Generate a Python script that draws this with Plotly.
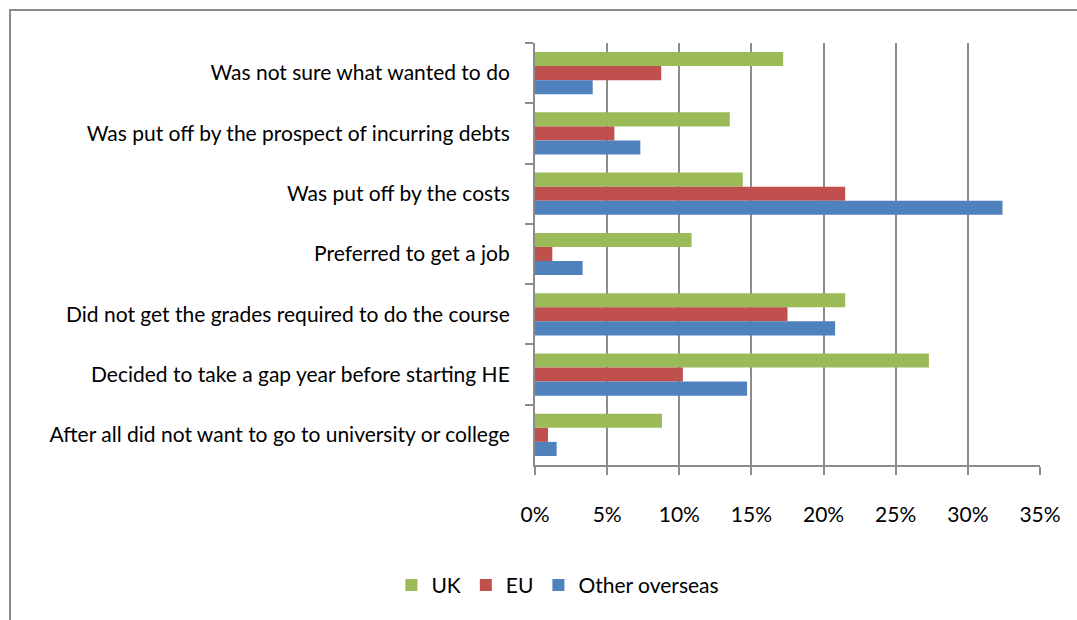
import plotly.graph_objects as go

# Reasons for not taking up a place, by domicile group (share of respondents)
categories = [
    "Was not sure what wanted to do",
    "Was put off by the prospect of incurring debts",
    "Was put off by the costs",
    "Preferred to get a job",
    "Did not get the grades required to do the course",
    "Decided to take a gap year before starting HE",
    "After all did not want to go to university or college",
]
uk = [0.172, 0.135, 0.144, 0.1085, 0.215, 0.273, 0.088]
eu = [0.0875, 0.055, 0.215, 0.012, 0.175, 0.1025, 0.009]
other_overseas = [0.040, 0.073, 0.324, 0.033, 0.208, 0.147, 0.015]

series = [
    ("UK", uk, "#9BBB59"),
    ("EU", eu, "#C0504D"),
    ("Other overseas", other_overseas, "#4F81BD"),
]
x_ticks = [0, 0.05, 0.10, 0.15, 0.20, 0.25, 0.30, 0.35]

FONT = "Lato, Calibri, Carlito, sans-serif"
FONT_SIZE = 21
GRID = "#8C8C8C"

fig = go.Figure()
for name, values, colour in series:
    fig.add_trace(go.Bar(
        y=categories, x=values, name=name, orientation="h",
        marker=dict(color=colour, line=dict(width=0)),
    ))

W, H = 1077, 620
L, R, T, B = 535, 37, 43, 155
pw, ph = W - L - R, H - T - B

def px_x(p):
    return (p - L) / pw

def px_y(p):
    return (H - B - p) / ph

fig.update_layout(
    width=W, height=H,
    margin=dict(l=L, r=R, t=T, b=B, pad=0),
    paper_bgcolor="white", plot_bgcolor="white",
    barmode="group", bargap=0.3, bargroupgap=0,
    font=dict(family=FONT, size=FONT_SIZE, color="#000000"),
    showlegend=True,
    legend=dict(
        orientation="h", xref="container", yref="container",
        x=0.518, xanchor="center", y=0.056, yanchor="middle",
        font=dict(family=FONT, size=FONT_SIZE, color="#000000"),
        traceorder="normal", itemwidth=30,
    ),
    xaxis=dict(
        range=[0, 0.35], tickvals=x_ticks, tickformat=".0%",
        showgrid=True, gridcolor=GRID, gridwidth=2,
        showline=True, linecolor=GRID, linewidth=2,
        ticks="outside", ticklen=8, tickwidth=2, tickcolor=GRID,
        ticklabelstandoff=22, zeroline=False,
        tickfont=dict(family=FONT, size=FONT_SIZE),
    ),
    yaxis=dict(
        autorange="reversed", type="category",
        tickson="boundaries", showgrid=False,
        showline=True, linecolor=GRID, linewidth=2,
        ticks="outside", ticklen=8, tickwidth=2, tickcolor=GRID,
        ticklabelstandoff=19,
        tickfont=dict(family=FONT, size=FONT_SIZE),
    ),
    shapes=[dict(
        type="rect", xref="paper", yref="paper",
        x0=px_x(10), x1=px_x(1090), y0=px_y(630), y1=px_y(10),
        line=dict(color="#8C8C8C", width=2), fillcolor="rgba(0,0,0,0)",
        layer="below",
    )],
)

fig.write_html("out.html")
